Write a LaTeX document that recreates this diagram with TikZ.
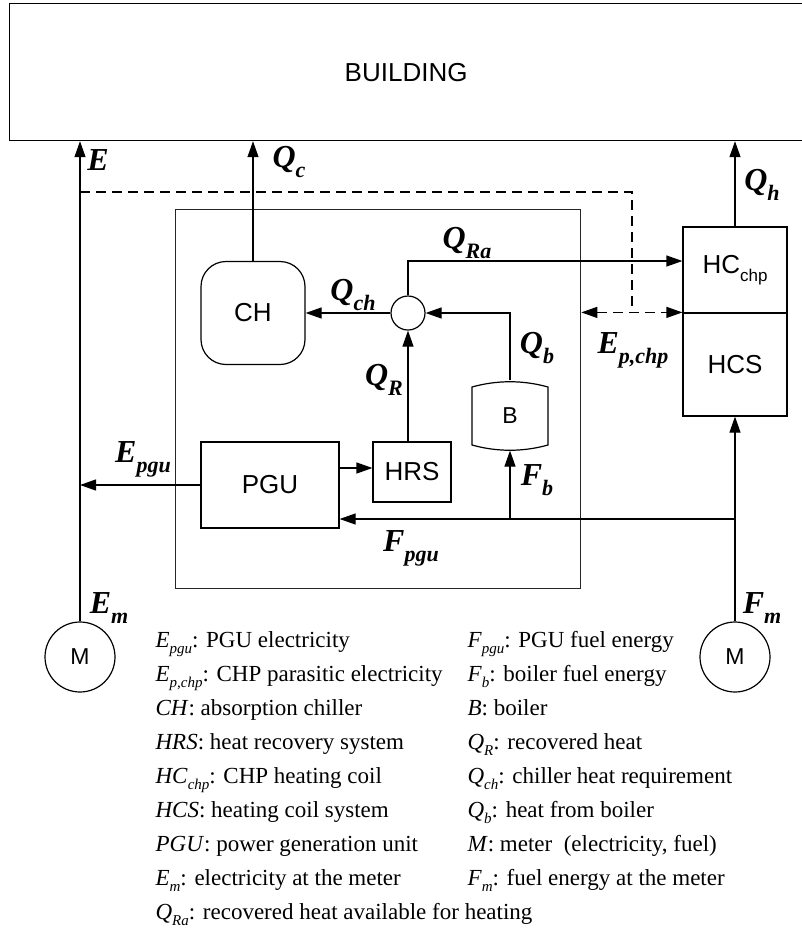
\documentclass[tikz,border=0pt]{standalone}
\usepackage{fontspec}
\setmainfont{Liberation Serif}
\newfontfamily\arialf{Liberation Sans}
\usetikzlibrary{arrows.meta}
\newcommand\lsub[1]{\raisebox{-0.3em}{\fontsize{15}{15}\selectfont\itshape #1}}
\newcommand\bsub[1]{\raisebox{-0.32em}{\fontsize{22}{22}\selectfont\bfseries\itshape #1}}
\newcommand\asub[1]{\raisebox{-0.3em}{\fontsize{17}{17}\selectfont #1}}
\begin{document}
\begin{tikzpicture}[x=1pt,y=-1pt, line width=1.2pt,
  arr/.style={-{Triangle[length=16pt,width=11pt]}},
  box/.style={draw, rectangle, inner sep=0pt, font=\arialf\fontsize{26}{28}\selectfont},
  lbl/.style={inner sep=0pt, font=\fontsize{32}{34}\selectfont\bfseries\itshape},
  leg/.style={inner sep=0pt, anchor=base west, font=\fontsize{23}{25}\selectfont},
  meter/.style={draw, circle, minimum size=70pt, inner sep=0pt, font=\arialf\fontsize{23}{25}\selectfont},
  dsh/.style={dash pattern=on 10pt off 6pt}]
\useasboundingbox (0,0) rectangle (801,932);
% building
\node[box, minimum width=793pt, minimum height=137pt, anchor=north west] (bld) at (9,3) {BUILDING};
% system boundary
\node[draw=black!85, line width=1.3pt, minimum width=405pt, minimum height=379pt, anchor=north west, inner sep=0pt] (sys) at (175,209) {};
% components
\node[box, rounded corners=25pt, minimum width=104pt, minimum height=103pt] (ch) at (253,313) {CH};
\node[draw, circle, minimum size=34pt, inner sep=0pt] (mix) at (408,313) {};
\node[minimum width=76pt, minimum height=69pt, inner sep=0pt, font=\arialf\fontsize{23}{25}\selectfont] (blr) at (510,415.5) {B};
\draw (472,387) .. controls (497,380) and (523,380) .. (548,387) -- (548,445) .. controls (523,452) and (497,452) .. (472,445) -- cycle;
\node[box, minimum width=138pt, minimum height=86pt] (pgu) at (270,485) {PGU};
\node[box, minimum width=78pt, minimum height=60pt] (hrs) at (412,472) {HRS};
\node[box, minimum width=104pt, minimum height=86pt] (hcc) at (735,270) {HC\asub{chp}};
\node[box, minimum width=104pt, minimum height=103pt] (hcs) at (735,364.5) {HCS};
\node[meter] (mL) at (80,657) {M};
\node[meter] (mR) at (735,657) {M};
% connectors
\draw[arr] (mL.north) -- (mL.north |- bld.south);
\draw[arr] (ch.north) -- (ch.north |- bld.south);
\draw[arr] (hcc.north) -- (hcc.north |- bld.south);
\draw[arr] (mix.west) -- (mix.west -| ch.east);
\draw[arr] (mix.south |- hrs.north) -- (mix.south);
\draw[arr] (mix.north) |- ([yshift=9pt]hcc.west);
\draw[arr] (blr.north) |- (mix.east);
\coordinate (fj) at (735,519);
\draw[arr] (mR.north) -- (hcs.south);
\draw[arr] (fj) -- (fj -| pgu.east);
\draw[arr] (fj -| blr.south) -- (blr.south);
\draw[arr] (pgu.west) -- (pgu.west -| mL.north);
\draw[arr] ([yshift=17pt]pgu.east) -- ([yshift=17pt]pgu.east -| hrs.west);
\coordinate (d1) at (80,192);
\coordinate (d2) at (632,313);
\draw[dsh] (d1) -| (d2);
\draw[dsh, {Triangle[length=16pt,width=11pt]}-{Triangle[length=16pt,width=11pt]}] (sys.east |- hcs.north west) -- (hcs.north west);
% flow labels
\node[lbl] (lE) at (98,160) {E};
\node[lbl] (lQc) at (289,162) {Q\bsub{c}};
\node[lbl] (lQh) at (762,185) {Q\bsub{h}};
\node[lbl] (lQch) at (353,295) {Q\bsub{ch}};
\node[lbl] (lQR) at (384,380) {Q\bsub{R}};
\node[lbl] (lQRa) at (467,243) {Q\bsub{Ra}};
\node[lbl] (lQb) at (537,348) {Q\bsub{b}};
\node[lbl] (lEp) at (633,350) {E\bsub{p,chp}};
\node[lbl] (lEpgu) at (143,459) {E\bsub{pgu}};
\node[lbl] (lFpgu) at (411,548) {F\bsub{pgu}};
\node[lbl] (lFb) at (537,480) {F\bsub{b}};
\node[lbl] (lEm) at (109,608) {E\bsub{m}};
\node[lbl] (lFm) at (762,608) {F\bsub{m}};
% legend
\node[leg] (g1) at (155,647) {\textit{E}\lsub{pgu}: PGU electricity};
\node[leg] (g2) at (155,681) {\textit{E}\lsub{p,chp}: CHP parasitic electricity};
\node[leg] (g3) at (155,715) {\textit{CH}: absorption chiller};
\node[leg] (g4) at (155,749) {\textit{HRS}: heat recovery system};
\node[leg] (g5) at (155,783) {\textit{HC}\lsub{chp}: CHP heating coil};
\node[leg] (g6) at (155,817) {\textit{HCS}: heating coil system};
\node[leg] (g7) at (155,851) {\textit{PGU}: power generation unit};
\node[leg] (g8) at (155,885) {\textit{E}\lsub{m}: electricity at the meter};
\node[leg] (g9) at (155,919) {\textit{Q}\lsub{Ra}: recovered heat available for heating};
\node[leg] (h1) at (467,647) {\textit{F}\lsub{pgu}: PGU fuel energy};
\node[leg] (h2) at (467,681) {\textit{F}\lsub{b}: boiler fuel energy};
\node[leg] (h3) at (467,715) {\textit{B}: boiler};
\node[leg] (h4) at (467,749) {\textit{Q}\lsub{R}: recovered heat};
\node[leg] (h5) at (467,783) {\textit{Q}\lsub{ch}: chiller heat requirement};
\node[leg] (h6) at (467,817) {\textit{Q}\lsub{b}: heat from boiler};
\node[leg] (h7) at (467,851) {\textit{M}: meter\ \ (electricity, fuel)};
\node[leg] (h8) at (467,885) {\textit{F}\lsub{m}: fuel energy at the meter};
\end{tikzpicture}
\end{document}
